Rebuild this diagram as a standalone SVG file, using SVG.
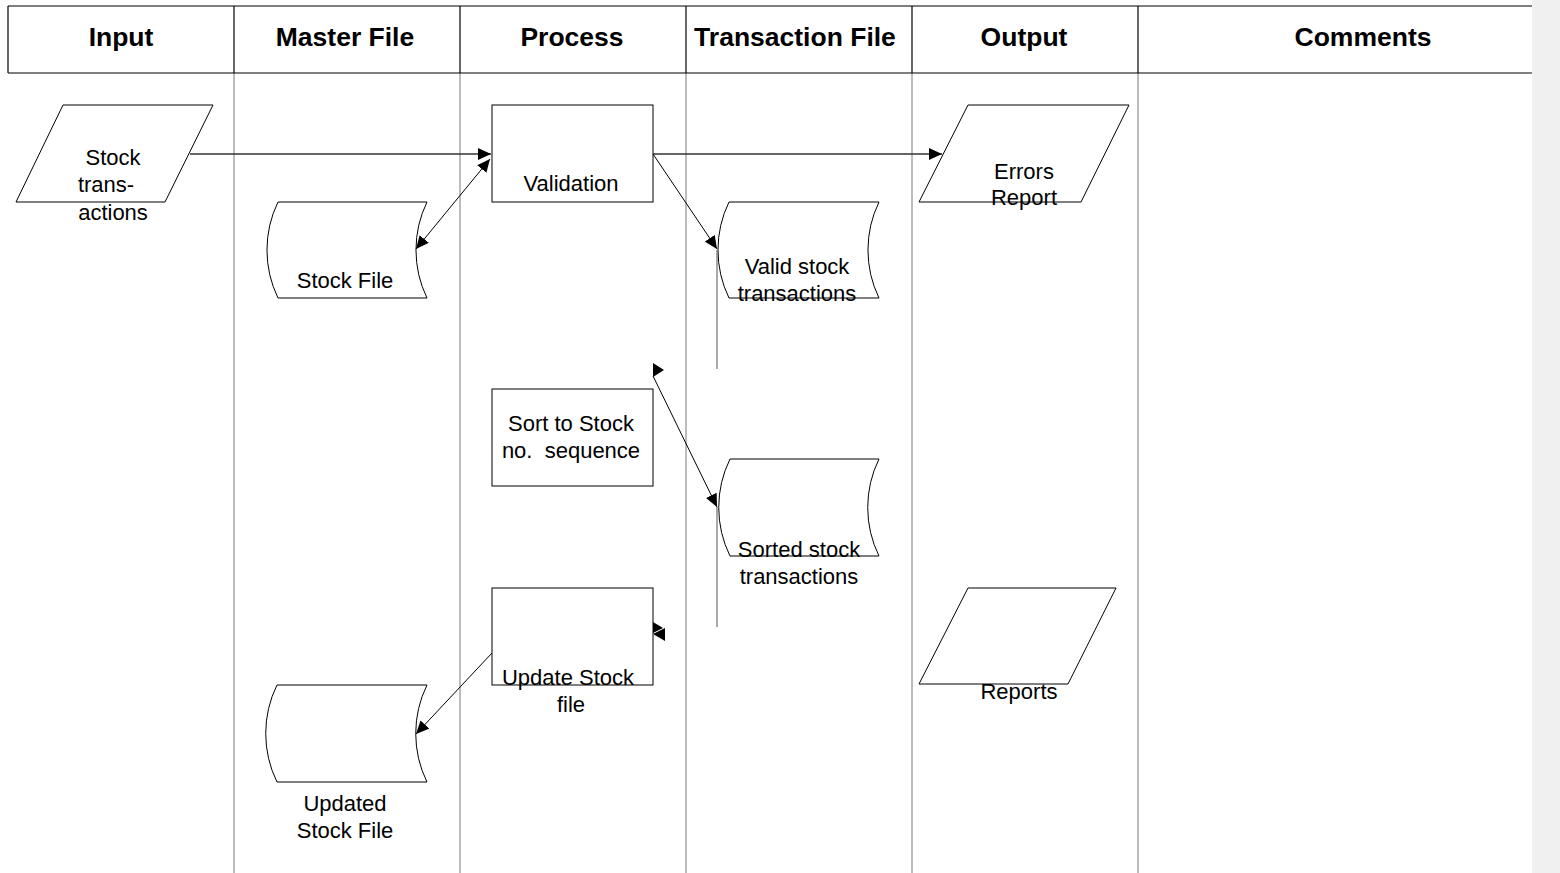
<svg xmlns="http://www.w3.org/2000/svg" width="1560" height="873" viewBox="0 0 1560 873">
  <style>
    .hdr { font-family: "Liberation Sans", Arial, sans-serif; font-size: 26.5px; font-weight: bold; fill: #000; text-anchor: middle; }
    .lbl { font-family: "Liberation Sans", Arial, sans-serif; font-size: 22px; fill: #000; text-anchor: middle; }
    .shape { fill: #fff; stroke: #000; stroke-width: 1; }
    .lane { stroke: #7a7a7a; stroke-width: 1; fill: none; }
    .hline { stroke: #000; stroke-width: 1.2; fill: none; }
    .conn { stroke: #000; stroke-width: 1; fill: none; }
    .flat { stroke: #333; stroke-width: 1.3; fill: none; }
    .stem { stroke: #707070; stroke-width: 1.2; fill: none; }
    .head { fill: #000; stroke: none; }
  </style>
  <defs>
    <marker id="arrow" viewBox="0 0 13 12" refX="13" refY="6" markerWidth="13" markerHeight="12" markerUnits="userSpaceOnUse" orient="auto-start-reverse">
      <path d="M0,0 L13,6 L0,12 Z" fill="#000"/>
    </marker>
  </defs>

  <rect x="0" y="0" width="1560" height="873" fill="#fff"/>

  <!-- swimlane table -->
  <g id="lanes">
    <line class="lane" x1="234" y1="73" x2="234" y2="873"/>
    <line class="lane" x1="460" y1="73" x2="460" y2="873"/>
    <line class="lane" x1="686" y1="73" x2="686" y2="873"/>
    <line class="lane" x1="912" y1="73" x2="912" y2="873"/>
    <line class="lane" x1="1138" y1="73" x2="1138" y2="873"/>
    <line class="hline" x1="8" y1="6" x2="1560" y2="6" stroke="#444"/>
    <line class="hline" x1="8" y1="73" x2="1560" y2="73"/>
    <line class="hline" x1="8" y1="6" x2="8" y2="73"/>
    <line class="hline" x1="234" y1="6" x2="234" y2="73"/>
    <line class="hline" x1="460" y1="6" x2="460" y2="73"/>
    <line class="hline" x1="686" y1="6" x2="686" y2="73"/>
    <line class="hline" x1="912" y1="6" x2="912" y2="73"/>
    <line class="hline" x1="1138" y1="6" x2="1138" y2="73"/>
    <text class="hdr" x="121" y="46">Input</text>
    <text class="hdr" x="345" y="46">Master File</text>
    <text class="hdr" x="572" y="46">Process</text>
    <text class="hdr" x="795" y="46">Transaction File</text>
    <text class="hdr" x="1024" y="46">Output</text>
    <text class="hdr" x="1363" y="46">Comments</text>
  </g>

  <!-- nodes -->
  <g id="stock-transactions">
    <path class="shape" d="M63,105 H213 L165,202 H16 Z"/>
    <text class="lbl" x="113" y="165">Stock</text>
    <text class="lbl" x="106" y="192">trans-</text>
    <text class="lbl" x="113" y="220">actions</text>
  </g>

  <g id="validation">
    <rect class="shape" x="492" y="105" width="161" height="97"/>
    <text class="lbl" x="571" y="191">Validation</text>
  </g>

  <g id="errors-report">
    <path class="shape" d="M968,105 H1129 L1081,202 H919 Z"/>
    <text class="lbl" x="1024" y="179">Errors</text>
    <text class="lbl" x="1024" y="205">Report</text>
  </g>

  <g id="stock-file">
    <path class="shape" d="M278,202 H427 A110,110 0 0 0 427,298 H278 A110,110 0 0 1 278,202 Z"/>
    <text class="lbl" x="345" y="288">Stock File</text>
  </g>

  <g id="valid-stock-transactions">
    <path class="shape" d="M729,202 H879 A110,110 0 0 0 879,298 H729 A110,110 0 0 1 729,202 Z"/>
    <text class="lbl" x="797" y="274">Valid stock</text>
    <text class="lbl" x="797" y="301">transactions</text>
  </g>

  <g id="sort">
    <rect class="shape" x="492" y="389" width="161" height="97"/>
    <text class="lbl" x="571" y="431">Sort to Stock</text>
    <text class="lbl" x="571" y="458" xml:space="preserve">no.  sequence</text>
  </g>

  <g id="sorted-stock-transactions">
    <path class="shape" d="M730,459 H879 A110,110 0 0 0 879,556 H730 A110,110 0 0 1 730,459 Z"/>
    <text class="lbl" x="799" y="557">Sorted stock</text>
    <text class="lbl" x="799" y="584">transactions</text>
  </g>

  <g id="update-stock-file">
    <rect class="shape" x="492" y="588" width="161" height="97"/>
    <text class="lbl" x="568" y="685">Update Stock</text>
    <text class="lbl" x="571" y="712">file</text>
  </g>

  <g id="reports">
    <path class="shape" d="M968,588 H1116 L1068,684 H919 Z"/>
    <text class="lbl" x="1019" y="699">Reports</text>
  </g>

  <g id="updated-stock-file">
    <path class="shape" d="M277,685 H427 A110,110 0 0 0 427,782 H277 A110,110 0 0 1 277,685 Z"/>
    <text class="lbl" x="345" y="811">Updated</text>
    <text class="lbl" x="345" y="838">Stock File</text>
  </g>

  <!-- connectors -->
  <g id="connectors">
    <line class="flat" x1="190" y1="154" x2="491" y2="154" marker-end="url(#arrow)"/>
    <line class="conn" x1="416" y1="249" x2="490" y2="159" marker-start="url(#arrow)" marker-end="url(#arrow)"/>
    <line class="flat" x1="653" y1="154" x2="942" y2="154" marker-end="url(#arrow)"/>
    <line class="conn" x1="653" y1="154" x2="717" y2="249" marker-end="url(#arrow)"/>
    <line class="stem" x1="717" y1="250" x2="717" y2="369"/>
    <polygon class="head" points="653,363 664,370 653,377"/>
    <line class="conn" x1="653" y1="376" x2="717" y2="507" marker-end="url(#arrow)"/>
    <line class="stem" x1="717" y1="507" x2="717" y2="627"/>
    <polygon class="head" points="653,622 663,628 653,633"/>
    <polygon class="head" points="665,628 653,634 665,641"/>
    <line class="conn" x1="492" y1="653" x2="416" y2="734" marker-end="url(#arrow)"/>
  </g>

  <!-- right margin strip -->
  <rect x="1532" y="0" width="28" height="873" fill="#f0f0f0"/>
</svg>
